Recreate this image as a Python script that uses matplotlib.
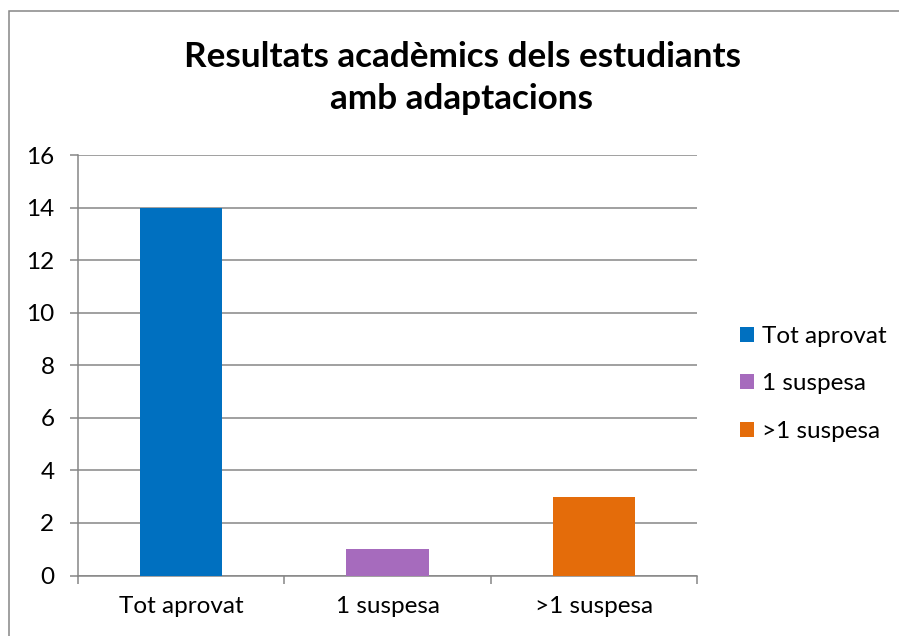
import matplotlib
matplotlib.use("Agg")
from matplotlib import pyplot
from matplotlib.patches import Rectangle, Patch

categories = ["Tot aprovat", "1 suspesa", ">1 suspesa"]
values = [14, 1, 3]
colors = ["#0070C0", "#A66BBD", "#E46C0A"]
yticks = [0, 2, 4, 6, 8, 10, 12, 14, 16]
title_text = "Resultats acadèmics dels estudiants\namb adaptacions"

pyplot.rcParams['font.family'] = ['Lato', 'DejaVu Sans']
grid_color = "#868686"

fig = pyplot.figure(figsize=(8.99, 6.36), dpi=100)
W, H = 899, 636

# outer chart border (cut off at right/bottom like the reference)
fig.patches.append(Rectangle((9 / W, -0.05), 1.1, 1 - 11 / H + 0.05, transform=fig.transFigure,
                             fill=False, edgecolor=grid_color, linewidth=1.1))

ax = fig.add_axes([78 / W, 1 - 575.5 / H, (697 - 78) / W, (575.5 - 155) / H])
x = list(range(len(categories)))
ax.bar(x, values, width=0.40, color=colors, zorder=3)

ax.set_xlim(-0.5, len(categories) - 0.5)
ax.set_ylim(0, 16)
ax.set_yticks(yticks)
ax.set_yticklabels([str(v) for v in yticks], fontsize=17.5)
ax.yaxis.grid(True, color=grid_color, linewidth=1.1, zorder=0)
ax.tick_params(axis='y', length=6, width=1.1, color=grid_color, pad=11)

# category boundary ticks (major) and labels (minor)
ax.set_xticks([i - 0.5 for i in range(len(categories) + 1)])
ax.set_xticklabels([])
ax.set_xticks(x, minor=True)
ax.set_xticklabels(categories, minor=True, fontsize=17.5)
ax.tick_params(axis='x', which='major', length=6, width=1.1, color=grid_color, direction='out')
ax.tick_params(axis='x', which='minor', length=0, pad=15)

for side in ["top", "right"]:
    ax.spines[side].set_visible(False)
for side in ["left", "bottom"]:
    ax.spines[side].set_color(grid_color)
    ax.spines[side].set_linewidth(1.1)

fig.text(462 / W, 1 - 78 / H, title_text, ha="center", va="center",
         fontsize=25.3, fontweight="bold", linespacing=1.42)

handles = [Patch(facecolor=c, edgecolor='none') for c in colors]
fig.legend(handles, categories, loc="center left", bbox_to_anchor=(740 / W, 1 - 384 / H),
           frameon=False, fontsize=17.5, handlelength=0.58, handleheight=0.58,
           handletextpad=0.33, labelspacing=1.1, borderpad=0, borderaxespad=0)

fig.savefig("out.png", dpi=100)
